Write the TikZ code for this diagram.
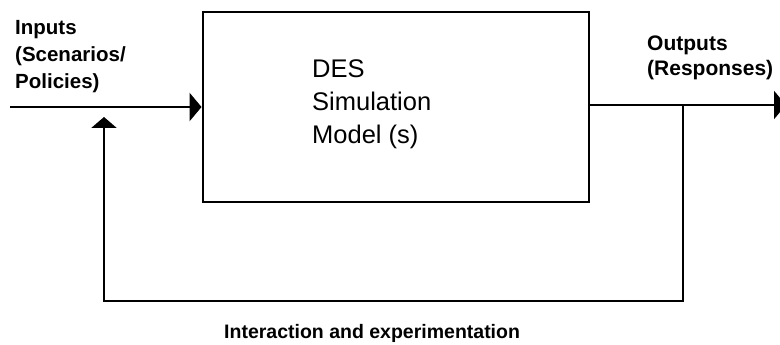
\documentclass[tikz,border=0pt]{standalone}
\usepackage{fontspec}
\setmainfont{Liberation Sans}
\usetikzlibrary{arrows.meta}
\begin{document}
\begin{tikzpicture}[x=1pt,y=-1pt,
  wire/.style={line width=2.6pt},
  boxstyle/.style={draw,line width=2.9pt,minimum width=386pt,minimum height=190pt,inner sep=0pt},
  lbl/.style={font=\fontsize{20.5}{27}\selectfont\bfseries,align=left,inner sep=0pt},
  modeltext/.style={font=\fontsize{25.5}{33}\selectfont,align=left,inner sep=0pt},
  headtip/.style={-{Triangle[length=12pt,width=28pt]}},
  uptip/.style={-{Triangle[length=11pt,width=25pt]}}]
\useasboundingbox (0,0) rectangle (780,345);

% the simulation model block
\node[boxstyle] (box) at (396,107) {};
\node[modeltext,anchor=north west] (model) at (312,59) {DES\\Simulation\\Model (s)};

% labels
\node[lbl,anchor=north west] (inlbl) at (15,20) {Inputs\\(Scenarios/\\Policies)};
\node[lbl,anchor=north west,font=\fontsize{21}{25}\selectfont\bfseries] (outlbl) at (647,36) {Outputs\\(Responses)};
\node[lbl,anchor=base west,font=\fontsize{19.5}{24}\selectfont\bfseries] (loop) at (224,338) {Interaction and experimentation};

% end points of the open wires
\coordinate (inL) at (10,107);
\coordinate (outR) at (786,105);
\coordinate (tap) at (683,105);
\coordinate (fbcorner) at (683,301);
\coordinate (fbtip) at (104,117);

% input and output
\draw[wire,headtip] (inL) -- (box.west);
\draw[wire,headtip] ([yshift=2pt]box.east) -- (outR);

% feedback loop
\draw[wire,uptip] (tap) -- (fbcorner) -| (fbtip);
\end{tikzpicture}
\end{document}
